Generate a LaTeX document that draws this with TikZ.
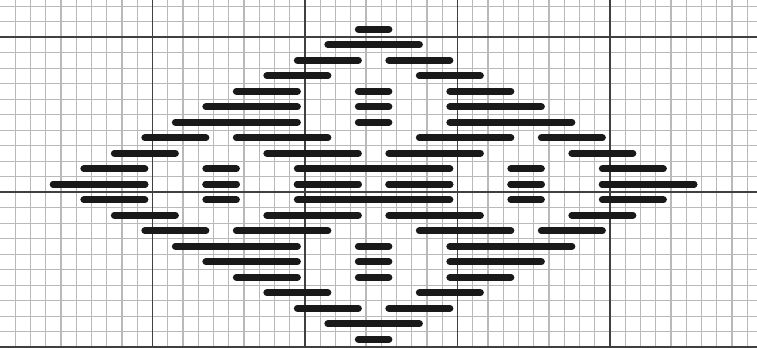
\documentclass[tikz,border=0pt]{standalone}
\usepackage{tikz}
\tikzset{
	finegrid/.style={draw=gray!55, line width=0.6pt},
	coarsegrid/.style={draw=black!75, line width=1pt},
	stitch/.style={draw=black!90, line width=4pt, line cap=round},
}
\begin{document}
\begin{tikzpicture}[x=0.305cm, y=0.31cm]
	\useasboundingbox (0,0) rectangle (49.64,22.39);
	% squared paper
	\foreach \i in {1,...,49} \draw[finegrid] (\i,0) -- (\i,22.39);
	\foreach \j in {0,...,22} \draw[finegrid] (0,\j) -- (49.64,\j);
	\foreach \i in {10,20,30,40} \draw[coarsegrid] (\i,0) -- (\i,22.39);
	\foreach \j in {0,10,20} \draw[coarsegrid] (0,\j) -- (49.64,\j);
	% stitches, offsets from the middle column, top half mirrored to bottom
	\foreach \r/\segs in {
		0/{-1/1},
		1/{-3/3},
		2/{-5/-1,1/5},
		3/{-7/-3,3/7},
		4/{-9/-5,-1/1,5/9},
		5/{-11/-5,-1/1,5/11},
		6/{-13/-5,-1/1,5/13},
		7/{-15/-11,-9/-3,3/9,11/15},
		8/{-17/-13,-7/-1,1/7,13/17},
		9/{-19/-15,-11/-9,-5/5,9/11,15/19},
		10/{-21/-15,-11/-9,-5/-1,1/5,9/11,15/21}} {
		\foreach \a/\b in \segs {
			\draw[stitch] ({24.5+\a},{20.5-\r}) -- ({24.5+\b},{20.5-\r});
			\draw[stitch] ({24.5+\a},{0.5+\r}) -- ({24.5+\b},{0.5+\r});
		}
	}
\end{tikzpicture}
\end{document}
